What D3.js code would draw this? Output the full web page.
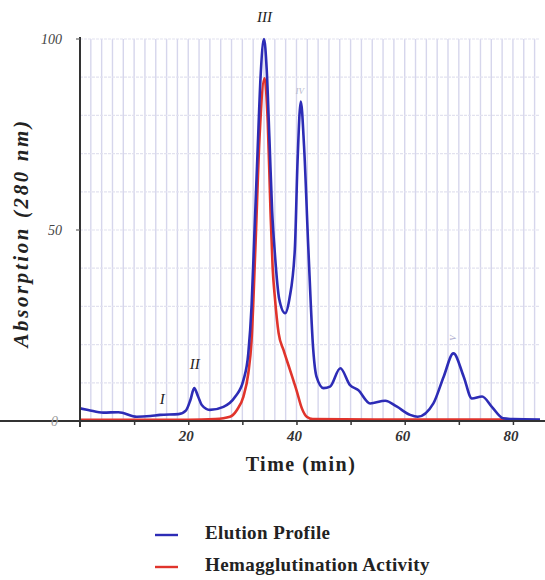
<!DOCTYPE html>
<html>
<head>
<meta charset="utf-8">
<script src="https://cdn.jsdelivr.net/npm/d3@7"></script>
<style>
  html, body { margin: 0; padding: 0; background: #fff; }
  svg { display: block; }
  text { font-family: "Liberation Serif", "DejaVu Serif", serif; }
</style>
</head>
<body>
<svg id="chart" width="545" height="580"></svg>
<script>
// Elution profile (absorption at 280 nm) against time in minutes
const elutionTime = [0, 1.5, 4.3, 7.1, 10.5, 13, 14.8, 18.2, 19.6, 20.4, 21.1, 21.8, 22.5, 24, 26.5, 28.7, 30.2, 31.1, 31.7, 32.2, 32.8, 33.4, 34, 34.5, 35, 35.5, 36, 36.8, 37.9, 38.7, 39.7, 40.2, 40.8, 41.4, 42.2, 43.1, 43.7, 45, 46.2, 48.1, 49.9, 51.4, 53.6, 56.4, 58.5, 61, 62.4, 65.3, 67.2, 69, 70.9, 72.4, 74.3, 76.1, 78.2, 80, 85];
const elutionValue = [3.3, 2.9, 2.2, 2.3, 1.1, 1.3, 1.6, 1.8, 2.8, 5.5, 8.6, 6.5, 4.2, 2.9, 3.7, 6.4, 10.7, 17.7, 30, 48, 70, 91, 100, 92, 74, 55, 44, 32, 28.2, 32, 45, 68, 83.6, 72, 45, 18.6, 11.6, 8.6, 9, 13.8, 9.4, 8.1, 4.6, 5.3, 3.8, 1.6, 1.1, 4.6, 11.6, 17.7, 11.6, 5.9, 6.4, 3.7, 0.7, 0.5, 0.4];

// Hemagglutination activity profile
const activityTime = [0, 10, 20, 25, 27.7, 29, 30.2, 31.1, 31.7, 32.4, 33.2, 34.1, 34.7, 35.2, 35.6, 36, 36.7, 37.6, 38.8, 40, 41, 41.9, 43, 60, 80];
const activityValue = [0.3, 0.3, 0.3, 0.5, 1.1, 2.9, 6.4, 12.5, 21, 45, 75, 89.7, 78, 55, 40, 32.5, 23, 18.6, 13.4, 8.1, 3.3, 1.1, 0.5, 0.4, 0.4];

const xTicks = [20, 40, 60, 80];
const xTickLabels = ["20", "40", "60", "80"];
const yTicks = [0, 50, 100];
const yTickLabels = ["0", "50", "100"];

const peakLabels = ["I", "II", "III"];
const peakTimes = [15.2, 21.2, 34.1];
const peakHeights = [4.5, 13.5, 104.5];

const seriesNames = ["Elution Profile", "Hemagglutination Activity"];
const seriesColors = ["#2d2cb6", "#e0342c"];

const svg = d3.select("#chart");

const x = d3.scaleLinear().domain([0, 85]).range([80, 540]);
const y = d3.scaleLinear().domain([0, 100]).range([421, 39]);

// grid
const grid = svg.append("g");
grid.selectAll("line.v")
  .data(d3.range(2, 85, 2))
  .join("line")
  .attr("x1", d => x(d)).attr("x2", d => x(d))
  .attr("y1", y(100)).attr("y2", y(0))
  .attr("stroke", "#d6d6ec").attr("stroke-width", 1.4);
grid.selectAll("line.h")
  .data(d3.range(10, 101, 10))
  .join("line")
  .attr("x1", x(0)).attr("x2", x(85))
  .attr("y1", d => y(d)).attr("y2", d => y(d))
  .attr("stroke", "#e2e2ef").attr("stroke-width", 1.2)
  .attr("stroke-dasharray", "3,1");

// series
const line = d3.line().curve(d3.curveMonotoneX);
const series = [
  { t: activityTime, v: activityValue, color: seriesColors[1] },
  { t: elutionTime, v: elutionValue, color: seriesColors[0] }
];
series.forEach(s => {
  svg.append("path")
    .attr("d", line(s.t.map((t, i) => [x(t), y(s.v[i])])))
    .attr("fill", "none")
    .attr("stroke", s.color)
    .attr("stroke-width", 2.6)
    .attr("stroke-linejoin", "round");
});

// axes
const xAxis = d3.axisBottom(x).tickValues(d3.range(10, 85, 10)).tickSize(4).tickFormat("");
svg.append("g").attr("transform", `translate(0,${y(0)})`).call(xAxis)
  .call(g => g.select(".domain").attr("d", `M0,0H545`).attr("stroke", "#333").attr("stroke-width", 2))
  .call(g => g.selectAll(".tick line").attr("stroke", "#333").attr("stroke-width", 1.5));
svg.append("line")
  .attr("x1", x(0)).attr("x2", x(0))
  .attr("y1", y(100) - 2).attr("y2", y(0) + 6)
  .attr("stroke", "#333").attr("stroke-width", 2);
svg.selectAll("line.ytick")
  .data(yTicks.slice(1))
  .join("line")
  .attr("x1", x(0) - 4).attr("x2", x(0))
  .attr("y1", d => y(d)).attr("y2", d => y(d))
  .attr("stroke", "#666").attr("stroke-width", 1.2);

svg.selectAll("text.xt")
  .data(xTicks)
  .join("text")
  .attr("x", d => x(d) - 2).attr("y", y(0) + 20)
  .attr("text-anchor", "middle")
  .attr("font-style", "italic").attr("font-weight", "bold")
  .attr("font-size", 15).attr("fill", "#333")
  .text((d, i) => xTickLabels[i]);

svg.selectAll("text.yt")
  .data(yTicks)
  .join("text")
  .attr("x", d => d === 0 ? 58 : 62).attr("y", d => y(d) + 5)
  .attr("text-anchor", "end")
  .attr("font-style", "italic")
  .attr("font-size", 14)
  .attr("fill", d => d === 0 ? "#999" : "#444")
  .text((d, i) => yTickLabels[i]);

// axis titles
svg.append("text")
  .attr("transform", `translate(28,${233}) rotate(-90)`)
  .attr("text-anchor", "middle")
  .attr("font-style", "italic").attr("font-weight", "bold")
  .attr("font-size", 21).attr("letter-spacing", 2.6)
  .attr("fill", "#222")
  .text("Absorption (280 nm)");
svg.append("text")
  .attr("x", 301).attr("y", 471)
  .attr("text-anchor", "middle")
  .attr("font-weight", "bold")
  .attr("font-size", 20).attr("letter-spacing", 1.5)
  .attr("fill", "#222")
  .text("Time (min)");

// peak labels
svg.selectAll("text.peak")
  .data(peakLabels)
  .join("text")
  .attr("x", (d, i) => x(peakTimes[i])).attr("y", (d, i) => y(peakHeights[i]))
  .attr("text-anchor", "middle")
  .attr("font-style", "italic")
  .attr("font-size", 15).attr("fill", "#222")
  .text(d => d);
svg.append("text")
  .attr("x", x(40.6)).attr("y", y(85.5))
  .attr("text-anchor", "middle").attr("font-style", "italic")
  .attr("font-size", 9).attr("fill", "#b8b8cc")
  .text("IV");
svg.append("text")
  .attr("transform", `translate(${x(69) + 3},${y(21)}) rotate(-90)`)
  .attr("text-anchor", "start").attr("font-style", "italic")
  .attr("font-size", 9).attr("fill", "#aaaacc")
  .text("V");

// legend
const legend = svg.append("g");
seriesNames.forEach((name, i) => {
  const ly = 535 + i * 32;
  legend.append("line")
    .attr("x1", 155).attr("x2", 178)
    .attr("y1", ly).attr("y2", ly)
    .attr("stroke", seriesColors[i]).attr("stroke-width", 2.4);
  legend.append("text")
    .attr("x", 205).attr("y", ly + 4)
    .attr("font-weight", "bold").attr("font-size", 19)
    .attr("letter-spacing", 0.4)
    .attr("fill", "#222")
    .text(name);
});
</script>
</body>
</html>
